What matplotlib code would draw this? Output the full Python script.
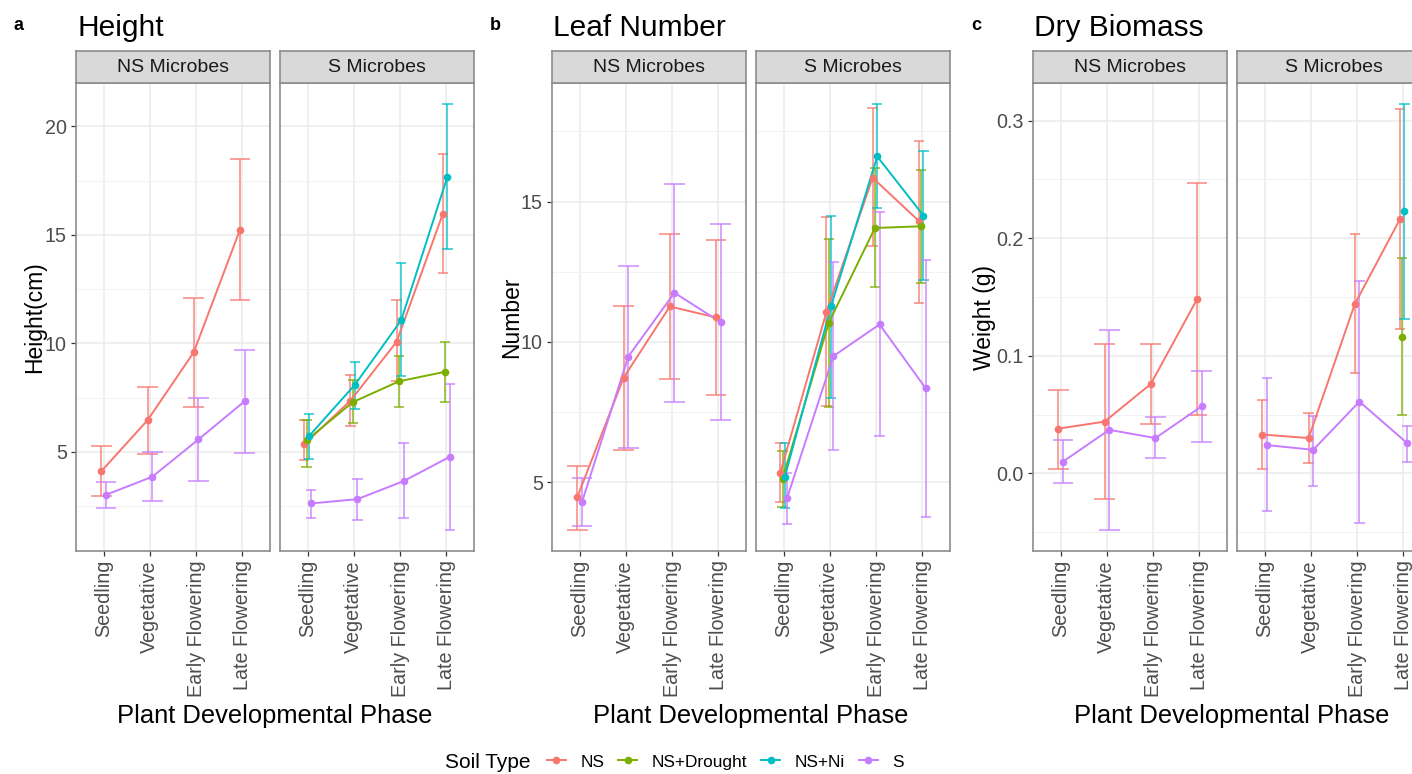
import numpy as np
import matplotlib.pyplot as plt
from matplotlib.lines import Line2D
from matplotlib.ticker import MultipleLocator

plt.rcParams['font.family'] = ['Liberation Sans', 'DejaVu Sans']

phases = ["Seedling", "Vegetative", "Early Flowering", "Late Flowering"]
soils = ["NS", "NS+Drought", "NS+Ni", "S"]
soil_colors = {"NS": "#F8766D", "NS+Drought": "#7CAE00", "NS+Ni": "#00BFC4", "S": "#C77CFF"}
facets = ["NS Microbes", "S Microbes"]
nan = np.nan

# a: height (cm)
height_nsm_mean = {"NS": [4.11, 6.46, 9.59, 15.24], "S": [3.02, 3.85, 5.57, 7.33]}
height_nsm_low = {"NS": [2.97, 4.88, 7.07, 11.99], "S": [2.39, 2.72, 3.65, 4.95]}
height_nsm_high = {"NS": [5.29, 8.01, 12.08, 18.52], "S": [3.62, 4.98, 7.49, 9.70]}
height_sm_mean = {"NS": [5.35, 7.36, 10.07, 15.97], "NS+Drought": [5.53, 7.29, 8.25, 8.69],
                  "NS+Ni": [5.72, 8.10, 11.07, 17.69], "S": [2.62, 2.82, 3.65, 4.77]}
height_sm_low = {"NS": [4.63, 6.17, 8.25, 13.22], "NS+Drought": [4.31, 6.35, 7.07, 7.32],
                 "NS+Ni": [4.69, 6.98, 8.48, 14.35], "S": [1.94, 1.87, 1.94, 1.41]}
height_sm_high = {"NS": [6.49, 8.56, 11.99, 18.75], "NS+Drought": [6.49, 8.29, 9.44, 10.05],
                  "NS+Ni": [6.75, 9.15, 13.69, 21.02], "S": [3.26, 3.77, 5.40, 8.12]}

# b: leaf number
leaf_nsm_mean = {"NS": [4.47, 8.72, 11.26, 10.87], "S": [4.29, 9.47, 11.75, 10.70]}
leaf_nsm_low = {"NS": [3.30, 6.16, 8.69, 8.11], "S": [3.43, 6.20, 7.85, 7.23]}
leaf_nsm_high = {"NS": [5.59, 11.26, 13.84, 13.64], "S": [5.14, 12.72, 15.63, 14.19]}
leaf_sm_mean = {"NS": [5.33, 11.06, 15.85, 14.31], "NS+Drought": [5.12, 10.68, 14.06, 14.12],
                "NS+Ni": [5.19, 11.27, 16.61, 14.50], "S": [4.44, 9.49, 10.62, 8.34]}
leaf_sm_low = {"NS": [4.30, 7.70, 13.40, 11.40], "NS+Drought": [4.12, 7.67, 11.94, 12.11],
               "NS+Ni": [4.06, 7.99, 14.78, 12.20], "S": [3.52, 6.13, 6.63, 3.75]}
leaf_sm_high = {"NS": [6.39, 14.44, 18.34, 17.17], "NS+Drought": [6.10, 13.67, 16.19, 16.11],
                "NS+Ni": [6.41, 14.50, 18.47, 16.81], "S": [5.33, 12.84, 14.62, 12.93]}

# c: dry biomass (g)
mass_nsm_mean = {"NS": [0.038, 0.044, 0.076, 0.148], "S": [0.010, 0.037, 0.030, 0.057]}
mass_nsm_low = {"NS": [0.004, -0.022, 0.042, 0.050], "S": [-0.008, -0.048, 0.013, 0.027]}
mass_nsm_high = {"NS": [0.071, 0.110, 0.110, 0.247], "S": [0.028, 0.122, 0.048, 0.087]}
mass_sm_mean = {"NS": [0.033, 0.030, 0.144, 0.216], "NS+Drought": [nan, nan, nan, 0.116],
                "NS+Ni": [nan, nan, nan, 0.223], "S": [0.024, 0.020, 0.061, 0.026]}
mass_sm_low = {"NS": [0.004, 0.009, 0.085, 0.123], "NS+Drought": [nan, nan, nan, 0.050],
               "NS+Ni": [nan, nan, nan, 0.131], "S": [-0.032, -0.011, -0.042, 0.010]}
mass_sm_high = {"NS": [0.062, 0.051, 0.204, 0.310], "NS+Drought": [nan, nan, nan, 0.183],
                "NS+Ni": [nan, nan, nan, 0.314], "S": [0.081, 0.049, 0.164, 0.040]}

W, H = 1412, 774
fig = plt.figure(figsize=(W / 100, H / 100), dpi=100)


def px_axes(x0, x1, y0, y1, **kw):
    return fig.add_axes([x0 / W, 1 - y1 / H, (x1 - x0) / W, (y1 - y0) / H], **kw)


def draw_facet(ax, means, lows, highs):
    x = np.arange(1, len(phases) + 1)
    cap = 0.9 / len(means)
    present = [[s for s in means if not np.isnan(means[s][i])] for i in range(len(phases))]
    for s in soils:
        if s not in means:
            continue
        m = np.array(means[s], float)
        lo = np.array(lows[s], float)
        hi = np.array(highs[s], float)
        xs = []
        for i in range(len(phases)):
            grp = present[i]
            if s in grp:
                n = len(grp)
                xs.append(x[i] + (grp.index(s) - (n - 1) / 2) * 0.2 / n)
            else:
                xs.append(nan)
        xs = np.array(xs)
        c = soil_colors[s]
        z = soils.index(s)
        ax.vlines(xs, lo, hi, color=c, lw=1.3, alpha=0.75, zorder=3 + z * 0.1)
        ax.hlines(lo, xs - cap / 2, xs + cap / 2, color=c, lw=1.3, alpha=0.75, zorder=3 + z * 0.1)
        ax.hlines(hi, xs - cap / 2, xs + cap / 2, color=c, lw=1.3, alpha=0.75, zorder=3 + z * 0.1)
        ok = ~np.isnan(m)
        ax.plot(xs[ok], m[ok], color=c, lw=1.4, zorder=4 + z * 0.1)
        ax.plot(xs[ok], m[ok], 'o', color=c, ms=5.5, mec='none', zorder=5 + z * 0.1)


panels = [
    ("a", "Height", "Height(cm)", 76, 41,
     [(height_nsm_mean, height_nsm_low, height_nsm_high), (height_sm_mean, height_sm_low, height_sm_high)], 5),
    ("b", "Leaf Number", "Number", 552, 40,
     [(leaf_nsm_mean, leaf_nsm_low, leaf_nsm_high), (leaf_sm_mean, leaf_sm_low, leaf_sm_high)], 5),
    ("c", "Dry Biomass", "Weight (g)", 1033, 48,
     [(mass_nsm_mean, mass_nsm_low, mass_nsm_high), (mass_sm_mean, mass_sm_low, mass_sm_high)], 0.1),
]

top, bottom, strip_top = 83, 551, 51
fw, gap = 194, 10
for letter, title, ylab, left, ylab_off, facet_data, step in panels:
    lows_all = [v for fd in facet_data for d in fd[1].values() for v in d if not np.isnan(v)]
    highs_all = [v for fd in facet_data for d in fd[2].values() for v in d if not np.isnan(v)]
    ymin, ymax = min(lows_all), max(highs_all)
    pad = 0.05 * (ymax - ymin)
    for k, (means, lows, highs) in enumerate(facet_data):
        x0 = left + k * (fw + gap)
        ax = px_axes(x0, x0 + fw, top, bottom)
        draw_facet(ax, means, lows, highs)
        ax.set_xlim(0.4, len(phases) + 0.6)
        ax.set_ylim(ymin - pad, ymax + pad)
        ax.yaxis.set_major_locator(MultipleLocator(step))
        ax.yaxis.set_minor_locator(MultipleLocator(step / 2))
        ax.set_xticks(np.arange(1, len(phases) + 1))
        ax.set_xticklabels(phases, rotation=90, va='top', ha='center')
        ax.grid(True, which='major', color='#EBEBEB', lw=1.1, zorder=0)
        ax.grid(True, which='minor', axis='y', color='#F2F2F2', lw=0.7, zorder=0)
        ax.set_axisbelow(True)
        ax.tick_params(axis='both', which='major', labelsize=14.2, labelcolor='#4D4D4D',
                       color='#333333', length=3.5, width=0.9, pad=3)
        ax.tick_params(axis='y', which='minor', length=0)
        if letter == "c":
            ax.yaxis.set_major_formatter(plt.FuncFormatter(lambda v, p: f"{v:.1f}"))
        if k == 1:
            ax.tick_params(axis='y', which='major', length=0, labelleft=False)
        for sp in ax.spines.values():
            sp.set_color('#8C8C8C')
            sp.set_linewidth(1.2)
        st = px_axes(x0, x0 + fw, strip_top, top, facecolor='#D9D9D9')
        st.set_xticks([])
        st.set_yticks([])
        for sp in st.spines.values():
            sp.set_color('#8C8C8C')
            sp.set_linewidth(1.2)
        st.text(0.5, 0.5, facets[k], ha='center', va='center', fontsize=14, color='#1A1A1A',
                transform=st.transAxes)
    fig.text((left - 62) / W, 1 - 25 / H, letter, fontsize=13, fontweight='bold', ha='left', va='center')
    fig.text((left + 1) / W, 1 - 28 / H, title, fontsize=21.5, ha='left', va='center')
    fig.text((left - ylab_off) / W, 1 - (top + bottom) / 2 / H, ylab, fontsize=16.5, rotation=90,
             ha='center', va='center')
    fig.text((left + fw + gap / 2) / W, 1 - 716 / H, "Plant Developmental Phase", fontsize=18.4,
             ha='center', va='center')

handles = [Line2D([], [], color=soil_colors[s], lw=1.4, marker='o', ms=5.5, mec='none') for s in soils]
fig.text(445 / W, 1 - 762 / H, "Soil Type", fontsize=15, ha='left', va='center')
fig.legend(handles, soils, loc='center left', bbox_to_anchor=(547 / W, 1 - 762 / H), ncol=4,
           frameon=False, fontsize=12.4, handlelength=1.1, handletextpad=0.85, columnspacing=0.8,
           borderaxespad=0, borderpad=0)

fig.savefig("out.png", dpi=100)
